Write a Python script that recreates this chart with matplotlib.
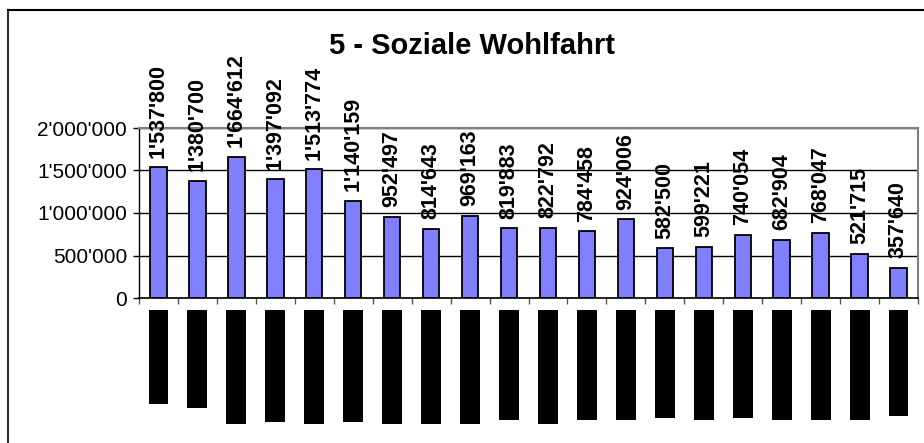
import matplotlib.pyplot as plt
from matplotlib.lines import Line2D
from matplotlib.ticker import FuncFormatter

plt.rcParams['font.family'] = ['Liberation Sans', 'DejaVu Sans']

# values per category (category names are blacked out in the original)
values = [1537800, 1380700, 1664612, 1397092, 1513774, 1140159, 952497, 814643,
          969163, 819883, 822792, 784458, 924006, 582500, 599221, 740054,
          682904, 768047, 521715, 357640]
# length (px) of the blacked-out category labels below the axis
label_depth = [94, 98, 114, 112, 114, 112, 114, 114, 114, 110,
               114, 110, 110, 108, 110, 108, 110, 110, 110, 106]
y_ticks = [0, 500000, 1000000, 1500000, 2000000]
title = "5 - Soziale Wohlfahrt"


def swiss(v):
    return f"{int(v):,}".replace(",", "'")


W, H = 924, 443
fig = plt.figure(figsize=(W / 100, H / 100), dpi=100)

# main plot area in pixels: left 139, right 918, top 128, bottom 298
ax = fig.add_axes([139 / W, 1 - 298 / H, 779 / W, 170 / H])
x = list(range(len(values)))
ax.bar(x, values, width=0.42, color="#8080FF", edgecolor="black", linewidth=1.3, zorder=3)
ax.set_xlim(-0.5, len(values) - 0.5)
ax.set_ylim(0, 2000000)
ax.set_yticks(y_ticks)
ax.yaxis.set_major_formatter(FuncFormatter(lambda v, pos: swiss(v)))
ax.tick_params(axis="y", direction="out", length=4.5, width=1, labelsize=15, pad=4)
ax.set_xticks([i - 0.5 for i in range(len(values) + 1)])
ax.set_xticklabels([])
ax.tick_params(axis="x", direction="out", length=4, width=1, color="#555555")
ax.grid(axis="y", color="black", linewidth=1, zorder=0)
for s in ["top", "right"]:
    ax.spines[s].set_color("#808080")
    ax.spines[s].set_linewidth(1.5)
ax.spines["left"].set_linewidth(1)
ax.spines["bottom"].set_linewidth(1.2)

for xi, v in zip(x, values):
    ax.annotate(swiss(v), (xi, v), xytext=(0, 7), textcoords="offset points",
                rotation=90, ha="center", va="bottom", fontsize=15.5,
                fontweight="bold", annotation_clip=False)

# blacked-out category labels
ax2 = fig.add_axes([139 / W, 0, 779 / W, (H - 310) / H], sharex=ax)
ax2.bar(x, label_depth, width=0.51, color="black")
ax2.set_ylim(H - 310, 0)
ax2.axis("off")

fig.text(472 / W, 1 - 46 / H, title, ha="center", va="center",
         fontsize=21, fontweight="bold")

# outer chart frame (only top and left edges visible)
fig.add_artist(Line2D([8 / W, 8 / W], [0, 1 - 10 / H], color="#303030", linewidth=1.5))
fig.add_artist(Line2D([8 / W, 1], [1 - 10 / H, 1 - 10 / H], color="black", linewidth=1.5))

fig.savefig("out.png", dpi=100)
